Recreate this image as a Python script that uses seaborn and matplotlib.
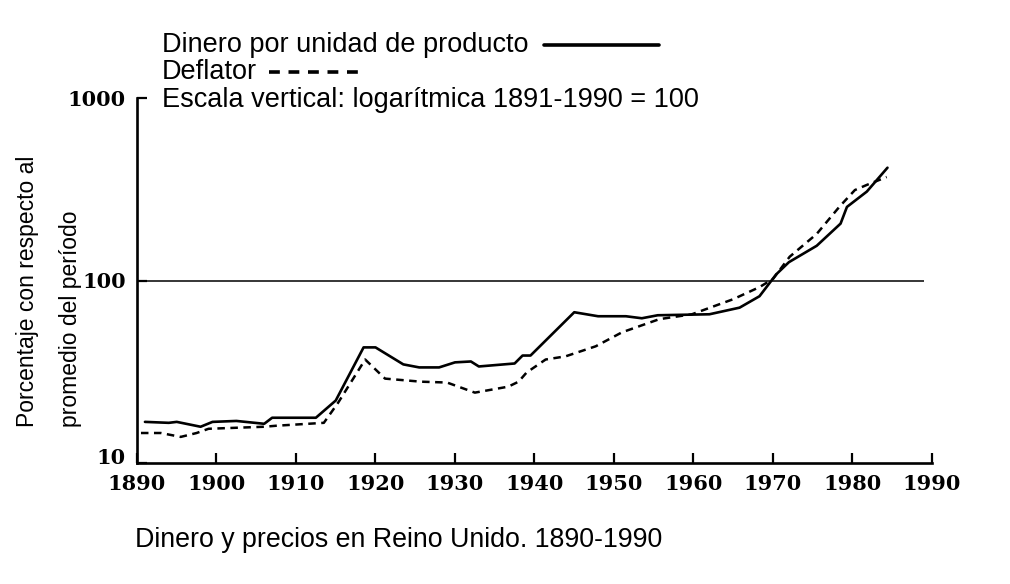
import matplotlib
matplotlib.use('Agg')
import matplotlib.pyplot as plt
from matplotlib.lines import Line2D
from matplotlib.ticker import FixedLocator, NullLocator
from matplotlib.transforms import ScaledTranslation
import seaborn as sns

# Dinero por unidad de producto (solid)
money_years = [1891, 1894, 1895, 1898, 1899.5, 1902.5, 1906, 1907, 1912.5, 1915, 1918.5, 1920,
               1923.5, 1925.5, 1928, 1930, 1932, 1933, 1937.5, 1938.5, 1939.5, 1945, 1948,
               1951.5, 1953.5, 1955.5, 1962, 1965.8, 1968.3, 1970.4, 1972, 1975.5, 1978.5,
               1979.3, 1981.8, 1984.4]
money_vals = [16.8, 16.6, 16.8, 15.8, 16.8, 17.0, 16.4, 17.7, 17.7, 22.0, 43.0, 43.0,
              34.7, 33.4, 33.4, 35.6, 36.0, 33.8, 35.1, 38.8, 38.8, 67.0, 63.7,
              63.7, 62.1, 64.5, 65.3, 71.0, 82.0, 108.0, 126.0, 155.0, 205.0,
              253.0, 307.0, 415.0]

# Deflator (dashed)
defl_years = [1890.5, 1893, 1895.5, 1897.5, 1899, 1902.5, 1906, 1907.5, 1913.5, 1915.3, 1918.7,
              1921.2, 1925.7, 1929, 1932.5, 1936.7, 1938, 1939, 1941.4, 1943.9, 1947.7, 1951,
              1955.7, 1959.8, 1965, 1968.3, 1970, 1972.1, 1975.5, 1978.4, 1980.3, 1981.8, 1984.3]
defl_vals = [14.6, 14.6, 13.9, 14.6, 15.4, 15.6, 15.8, 16.0, 16.6, 21.4, 36.9,
             29.0, 27.9, 27.6, 24.3, 26.2, 27.9, 31.3, 36.9, 38.4, 43.6, 52.0,
             61.4, 65.3, 79.0, 92.0, 102.0, 135.0, 180.0, 255.0, 313.0, 334.0, 369.0]

x_ticks = list(range(1890, 1991, 10))
y_ticks = [10, 100, 1000]
y_tick_labels = ['10', '100', '1000']

legend_labels = ['Dinero por unidad de producto', 'Deflator',
                 'Escala vertical: logarítmica 1891-1990 = 100']
ylabel_lines = ['Porcentaje con respecto al', 'promedio del período']
caption = 'Dinero y precios en Reino Unido. 1890-1990'


def main():
    sns.set_style('ticks')
    plt.rcParams['font.family'] = ['Liberation Sans', 'DejaVu Sans']
    W, H = 1010, 584
    fig = plt.figure(figsize=(W / 100, H / 100), dpi=100)
    fig.patch.set_facecolor('white')
    ax = fig.add_axes([137 / W, 1 - 463 / H, (932 - 137) / W, (463 - 98) / H])
    ax.set_facecolor('white')

    sns.lineplot(x=money_years, y=money_vals, ax=ax, color='black', linewidth=1.9, sort=False)
    sns.lineplot(x=defl_years, y=defl_vals, ax=ax, color='black', linewidth=1.8, sort=False,
                 linestyle=(0, (3, 2.2)))
    ax.hlines(100, 1890, 1989, color='black', linewidth=1.1)

    ax.set_yscale('log')
    ax.set_xlim(1890, 1990)
    ax.set_ylim(10, 1000)
    ax.yaxis.set_major_locator(FixedLocator(y_ticks))
    ax.yaxis.set_minor_locator(NullLocator())
    ax.set_yticklabels(y_tick_labels)
    ax.set_xticks(x_ticks)
    ax.set_xticklabels([str(t) for t in x_ticks])
    for lab in ax.get_xticklabels() + ax.get_yticklabels():
        lab.set_fontfamily('DejaVu Serif')
        lab.set_fontweight('bold')
        lab.set_fontsize(15)
    ax.tick_params(axis='x', direction='in', length=7, width=1.6, pad=8, colors='black')
    ax.tick_params(axis='y', direction='in', length=7, width=1.6, pad=8, colors='black')
    # the "10" sits a little above the corner, clear of "1890"
    lab10 = ax.get_yticklabels()[0]
    lab10.set_transform(lab10.get_transform() + ScaledTranslation(0, 5 / 72, fig.dpi_scale_trans))
    sns.despine(ax=ax)
    for s in ['left', 'bottom']:
        ax.spines[s].set_linewidth(1.9)
        ax.spines[s].set_color('black')
    ax.set_xlabel('')
    ax.set_ylabel('')

    # y label, two rotated lines starting at same bottom
    fig.text(28 / W, 1 - 427 / H, ylabel_lines[0], rotation=90, ha='center', va='bottom',
             fontsize=16.5, color='black')
    fig.text(70 / W, 1 - 427 / H, ylabel_lines[1], rotation=90, ha='center', va='bottom',
             fontsize=16.5, color='black')

    # legend block at the top
    ys = [45, 72, 100]
    texts = []
    for lab, y in zip(legend_labels, ys):
        texts.append(fig.text(162 / W, 1 - y / H, lab, ha='left', va='center',
                              fontsize=19.5, color='black'))
    fig.canvas.draw()
    r = fig.canvas.get_renderer()
    e0 = texts[0].get_window_extent(r)
    x0 = e0.x1 + 15
    fig.add_artist(Line2D([x0 / W, (x0 + 115) / W], [1 - ys[0] / H] * 2,
                          color='black', linewidth=2.6, transform=fig.transFigure))
    e1 = texts[1].get_window_extent(r)
    x1 = e1.x1 + 12
    fig.add_artist(Line2D([x1 / W, (x1 + 97) / W], [1 - ys[1] / H] * 2,
                          color='black', linewidth=2.6, linestyle=(0, (3.0, 2.4)),
                          transform=fig.transFigure))

    fig.text(135 / W, 1 - 540 / H, caption, ha='left', va='center', fontsize=19.3, color='black')

    fig.savefig('out.png', dpi=100, facecolor='white')


if __name__ == '__main__':
    main()
